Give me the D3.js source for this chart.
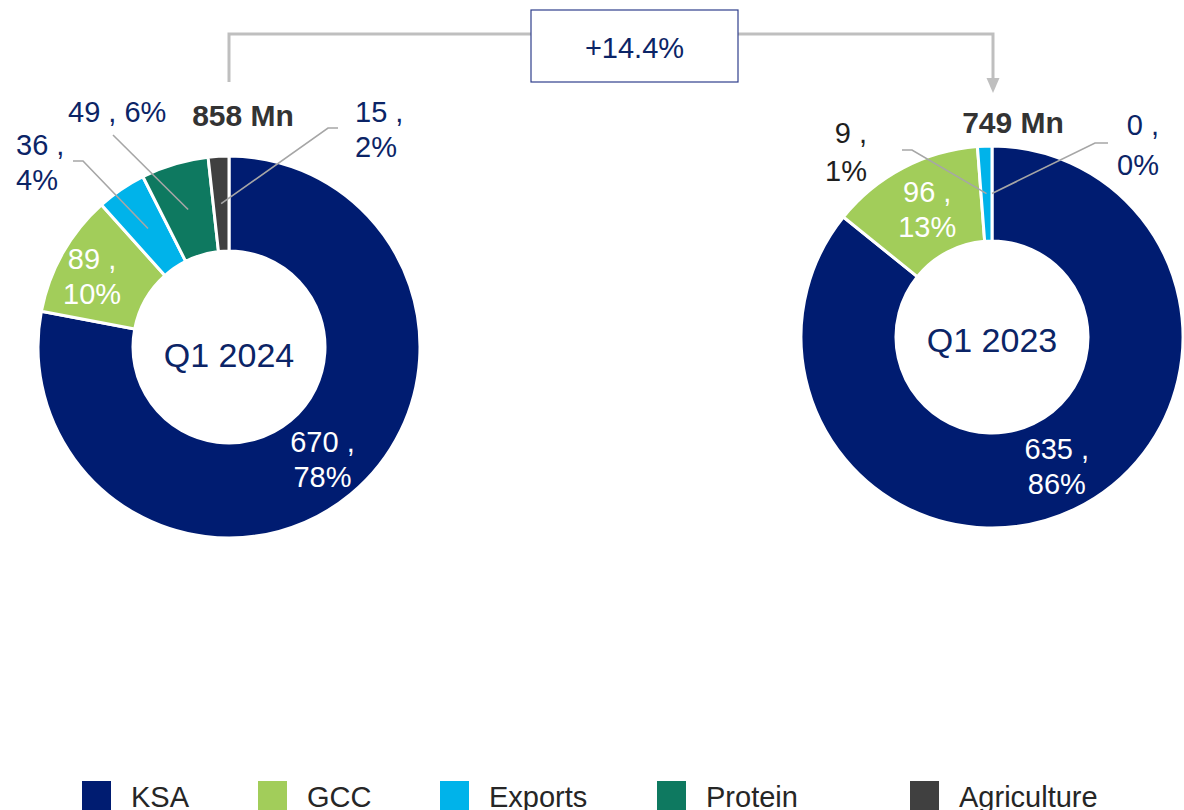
<!DOCTYPE html>
<html>
<head>
<meta charset="utf-8">
<script src="https://cdn.jsdelivr.net/npm/d3@7"></script>
<style>
  html, body { margin: 0; padding: 0; background: #fff; }
  svg { display: block; font-family: "Liberation Sans", Arial, sans-serif; }
</style>
</head>
<body>
<svg id="chart" width="1184" height="810"></svg>
<script>
// ---------------- DATA ----------------
const categories = ["KSA", "GCC", "Exports", "Protein", "Agriculture"];
const colors = ["#001C71", "#A2CD5A", "#00B3EA", "#0E7960", "#404040"];
const q12024Values = [670, 89, 36, 49, 15];
const q12024Pct = ["78%", "10%", "4%", "6%", "2%"];
const q12023Values = [635, 96, 9, 0, 0];
const q12023Pct = ["86%", "13%", "1%", "0%", "0%"];
const periodLabels = ["Q1 2024", "Q1 2023"];
const totals = ["858 Mn", "749 Mn"];
const changeLabel = "+14.4%";

// ---------------- LAYOUT ----------------
const svg = d3.select("#chart");
const R = 191, r = 96;
const navy = "#0B2466";
const leaderColor = "#A6A6A6";
const fontSize = 29;

const arc = d3.arc().innerRadius(r).outerRadius(R);
const midArc = d3.arc().innerRadius((R + r) / 2).outerRadius((R + r) / 2);
const pie = d3.pie().sort(null).value(d => d.value).startAngle(0).endAngle(2 * Math.PI);

// label specs per donut: inside labels at centroid (+offset), outside labels with leader lines
const donuts = [
  {
    cx: 229, cy: 347, values: q12024Values, pct: q12024Pct, period: periodLabels[0], total: totals[0],
    totalPos: [243, 126],
    labels: {
      KSA: { inside: true, dx: 2, dy: 1 },
      GCC: { inside: true, dx: -12, dy: 0 },
      Exports: { x: 16, y: 155, anchor: "start", lines: 2, elbow: [83, 161], end: [73, 161] },
      Protein: { x: 68, y: 122, anchor: "start", lines: 1, elbow: [113, 135], end: [113, 135] },
      Agriculture: { x: 355, y: 122, anchor: "start", lines: 2, elbow: [328, 128], end: [338, 128] }
    }
  },
  {
    cx: 992, cy: 337, values: q12023Values, pct: q12023Pct, period: periodLabels[1], total: totals[1],
    totalPos: [1013, 133],
    labels: {
      KSA: { inside: true, dx: 3, dy: 0 },
      GCC: { inside: true, dx: 2, dy: -1 },
      Exports: { x: 867, y: 143, anchor: "end", lines: 2, lh: 38, elbow: [912, 150], end: [902, 150], color: "#1E1E1E" },
      Agriculture: { x: 1159, y: 135, anchor: "end", lines: 2, lh: 40, elbow: [1095, 143], end: [1108, 143] }
    }
  }
];

// ---------------- BRACKET ----------------
const bracketColor = "#BFBFBF";
const box = { x0: 531, x1: 738, y0: 10, y1: 82 };
const bracketY = 34;
svg.append("path")
  .attr("d", `M${donuts[0].cx},82 V${bracketY} H${box.x0}`)
  .attr("fill", "none").attr("stroke", bracketColor).attr("stroke-width", 3);
svg.append("path")
  .attr("d", `M${box.x1},${bracketY} H${donuts[1].cx + 1} V80`)
  .attr("fill", "none").attr("stroke", bracketColor).attr("stroke-width", 3);
svg.append("path")
  .attr("d", `M${donuts[1].cx + 1 - 6.5},78 L${donuts[1].cx + 1 + 6.5},78 L${donuts[1].cx + 1},93 Z`)
  .attr("fill", bracketColor);
svg.append("rect")
  .attr("x", box.x0).attr("y", box.y0)
  .attr("width", box.x1 - box.x0).attr("height", box.y1 - box.y0)
  .attr("fill", "#fff").attr("stroke", "#2F3F8C").attr("stroke-width", 1.2);
svg.append("text")
  .attr("x", (box.x0 + box.x1) / 2).attr("y", 58)
  .attr("text-anchor", "middle").attr("font-size", 29).attr("fill", navy)
  .text(changeLabel);

// ---------------- DONUTS ----------------
donuts.forEach(dn => {
  const data = categories.map((c, i) => ({ cat: c, value: dn.values[i], pct: dn.pct[i], color: colors[i] }));
  const arcs = pie(data);
  const g = svg.append("g").attr("transform", `translate(${dn.cx},${dn.cy})`);

  g.selectAll("path.slice")
    .data(arcs.filter(a => a.data.value > 0))
    .join("path")
    .attr("class", "slice")
    .attr("d", arc)
    .attr("fill", d => d.data.color)
    .attr("stroke", "#fff")
    .attr("stroke-width", 3)
    .attr("stroke-linejoin", "miter");

  // center label
  g.append("text")
    .attr("x", 0).attr("y", dn.cy === 347 ? 20 : 15)
    .attr("text-anchor", "middle").attr("font-size", 34).attr("fill", navy)
    .text(dn.period);

  // total
  svg.append("text")
    .attr("x", dn.totalPos[0]).attr("y", dn.totalPos[1])
    .attr("text-anchor", "middle").attr("font-size", 30).attr("font-weight", "bold")
    .attr("fill", "#333333")
    .text(dn.total);

  arcs.forEach(a => {
    const spec = dn.labels[a.data.cat];
    if (!spec) return;
    const line1 = `${a.data.value} ,`;
    const line2 = a.data.pct;
    if (spec.inside) {
      const [mx, my] = midArc.centroid(a);
      const cx = dn.cx + mx + spec.dx, cy = dn.cy + my + spec.dy;
      const t = svg.append("text").attr("text-anchor", "middle").attr("font-size", fontSize).attr("fill", "#fff");
      t.append("tspan").attr("x", cx).attr("y", cy - 7).text(line1);
      t.append("tspan").attr("x", cx).attr("y", cy + 28).text(line2);
    } else {
      // leader line from slice centroid to elbow to end
      const [mx, my] = midArc.centroid(a);
      const sx = dn.cx + mx, sy = dn.cy + my;
      svg.append("path")
        .attr("d", `M${sx},${sy} L${spec.elbow[0]},${spec.elbow[1]} L${spec.end[0]},${spec.end[1]}`)
        .attr("fill", "none").attr("stroke", leaderColor).attr("stroke-width", 1.6);
      const t = svg.append("text").attr("text-anchor", spec.anchor).attr("font-size", fontSize)
        .attr("fill", spec.color || navy);
      if (spec.lines === 1) {
        t.append("tspan").attr("x", spec.x).attr("y", spec.y).text(`${line1} ${line2}`);
      } else {
        t.append("tspan").attr("x", spec.x).attr("y", spec.y).text(line1);
        t.append("tspan").attr("x", spec.x).attr("y", spec.y + (spec.lh || 35)).text(line2);
      }
    }
  });
});

// ---------------- LEGEND ----------------
const legendX = [82, 258, 440, 657, 910];
const legend = svg.append("g");
categories.forEach((c, i) => {
  legend.append("rect")
    .attr("x", legendX[i]).attr("y", 781)
    .attr("width", 29).attr("height", 30)
    .attr("fill", colors[i]);
  legend.append("text")
    .attr("x", legendX[i] + 49).attr("y", 807)
    .attr("font-size", 29).attr("fill", "#262626")
    .text(c);
});
</script>
</body>
</html>
